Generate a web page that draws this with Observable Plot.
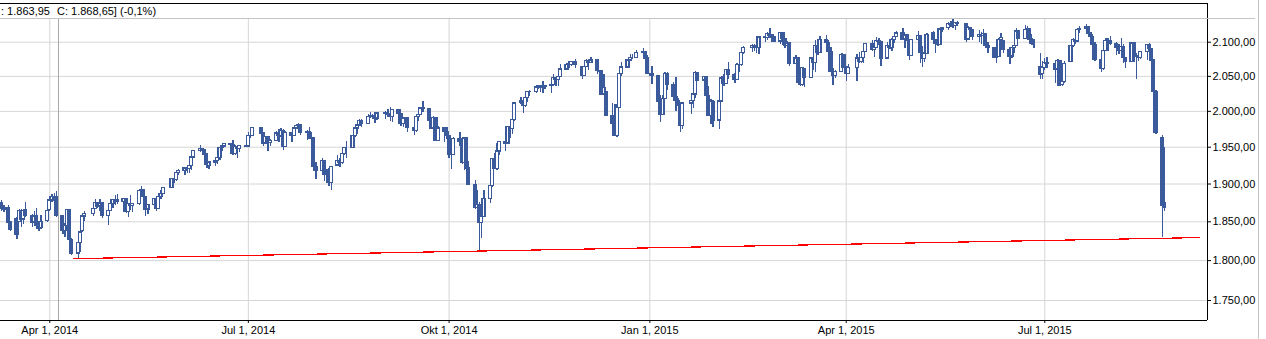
<!DOCTYPE html>
<html><head><meta charset="utf-8">
<script src="https://cdn.jsdelivr.net/npm/d3@7"></script>
<script src="https://cdn.jsdelivr.net/npm/@observablehq/plot@0.6"></script>
<style>html,body{margin:0;padding:0;background:#fff;overflow:hidden}svg{display:block}</style>
</head><body><div id="chart"></div>
<script>
// rows: [day, open, high, low, close]
const mar2014 = [[10,1875,1878,1864,1867],[11,1868,1872,1862,1866],[12,1865,1869,1853,1866],[13,1868,1871,1845,1848],[14,1849,1851,1837,1840],[17,1853,1855,1827,1833],[18,1850,1866,1849,1864],[19,1864,1866,1843,1853],[20,1853,1866,1847,1864],[21,1865,1876,1855,1858],[24,1858,1860,1842,1849],[25,1850,1864,1848,1857],[26,1858,1867,1844,1845],[27,1845,1848,1838,1841],[28,1842,1858,1840,1850],[31,1851,1867,1849,1864]];
const apr2014 = [[1,1865,1879,1864,1878],[2,1878,1886,1876,1883],[3,1883,1887,1875,1881],[4,1882,1890,1856,1858],[7,1857,1858,1834,1838],[8,1838,1848,1830,1845],[9,1845,1866,1844,1865],[10,1865,1866,1823,1826],[11,1826,1828,1806,1809],[14,1809,1827,1803,1823],[15,1823,1837,1810,1836],[16,1838,1857,1836,1857],[17,1857,1864,1851,1860],[21,1860,1867,1857,1867],[22,1867,1880,1866,1875],[23,1875,1876,1868,1870],[24,1870,1879,1864,1874],[25,1874,1875,1854,1858],[28,1858,1872,1845,1864],[29,1864,1876,1863,1873],[30,1873,1880,1867,1879]];
const may2014 = [[1,1879,1884,1872,1878],[2,1878,1886,1873,1876],[5,1876,1881,1862,1880],[6,1880,1880,1861,1863],[7,1863,1874,1855,1873],[8,1873,1884,1865,1871],[9,1871,1874,1862,1873],[12,1873,1892,1872,1891],[13,1891,1897,1890,1892],[14,1892,1892,1880,1883],[15,1883,1883,1857,1866],[16,1866,1873,1859,1872],[19,1872,1881,1867,1880],[20,1880,1880,1863,1867],[21,1867,1884,1866,1883],[22,1883,1891,1880,1887],[23,1887,1896,1886,1895],[27,1895,1907,1894,1907],[28,1907,1910,1901,1905],[29,1905,1915,1904,1915],[30,1915,1919,1911,1918]];
const jun2014 = [[2,1918,1922,1912,1921],[3,1921,1921,1914,1920],[4,1920,1925,1914,1924],[5,1924,1938,1918,1936],[6,1936,1946,1935,1945],[9,1945,1952,1943,1947],[10,1947,1947,1940,1946],[11,1946,1946,1935,1940],[12,1940,1940,1921,1926],[13,1924,1931,1920,1929],[16,1929,1934,1923,1931],[17,1931,1937,1926,1935],[18,1935,1950,1932,1949],[19,1949,1952,1944,1951],[20,1951,1955,1949,1954],[23,1954,1955,1949,1953],[24,1953,1959,1938,1941],[25,1941,1952,1938,1950],[26,1950,1951,1935,1948],[27,1948,1952,1943,1952],[30,1952,1955,1949,1951]];
const jul2014 = [[1,1951,1970,1950,1965],[2,1965,1968,1962,1966],[3,1966,1977,1965,1977],[7,1977,1977,1966,1969],[8,1969,1969,1951,1955],[9,1955,1965,1954,1964],[10,1964,1965,1944,1956],[11,1956,1961,1951,1959],[14,1959,1972,1958,1969],[15,1969,1974,1957,1965],[16,1965,1976,1964,1973],[17,1973,1974,1946,1950],[18,1950,1972,1949,1970],[21,1970,1970,1957,1966],[22,1966,1978,1965,1976],[23,1976,1981,1974,1979],[24,1979,1983,1977,1980],[25,1980,1980,1966,1970],[28,1970,1973,1959,1971],[29,1971,1977,1961,1962],[30,1962,1971,1954,1962],[31,1962,1963,1921,1923]];
const aug2014 = [[1,1923,1929,1906,1917],[4,1917,1935,1913,1931],[5,1931,1931,1904,1912],[6,1912,1920,1902,1912],[7,1912,1921,1897,1901],[8,1901,1924,1891,1923],[11,1925,1939,1924,1931],[12,1931,1934,1922,1928],[13,1928,1942,1927,1941],[14,1941,1949,1939,1949],[15,1949,1958,1935,1949],[18,1949,1966,1948,1966],[19,1966,1977,1964,1976],[20,1976,1982,1967,1980],[21,1980,1989,1979,1986],[22,1986,1988,1978,1982],[25,1982,1996,1981,1992],[26,1992,1999,1990,1994],[27,1994,1996,1989,1994],[28,1994,1995,1983,1990],[29,1990,1997,1987,1997]];
const sep2014 = [[2,1997,2000,1988,1996],[3,1996,2003,1992,1995],[4,1995,2005,1986,1992],[5,1992,2002,1984,2002],[8,2002,2002,1990,1996],[9,1996,1996,1979,1982],[10,1982,1991,1977,1990],[11,1990,1992,1980,1991],[12,1990,1990,1971,1977],[15,1977,1980,1966,1972],[16,1972,1995,1970,1992],[17,1992,2004,1986,1995],[18,1995,2005,1994,2004],[19,2004,2014,1999,2003],[22,2003,2003,1984,1987],[23,1987,1989,1975,1976],[24,1976,1993,1971,1991],[25,1991,1991,1958,1959],[26,1959,1979,1958,1976],[29,1976,1976,1956,1971],[30,1971,1978,1961,1965]];
const oct2014 = [[1,1965,1965,1935,1939],[2,1939,1945,1919,1939],[3,1939,1964,1938,1961],[6,1961,1970,1951,1958],[7,1958,1958,1927,1928],[8,1928,1963,1918,1962],[9,1962,1962,1920,1921],[10,1921,1930,1898,1899],[13,1899,1905,1866,1868],[14,1868,1891,1864,1872],[15,1872,1876,1813,1848],[16,1848,1869,1828,1856],[17,1856,1891,1855,1880],[20,1880,1898,1874,1897],[21,1897,1935,1896,1934],[22,1934,1942,1919,1920],[23,1920,1955,1918,1944],[24,1944,1958,1939,1957],[27,1957,1958,1944,1955],[28,1955,1978,1955,1978],[29,1978,1984,1962,1975],[30,1975,1992,1968,1988],[31,1988,2012,1986,2011]];
const nov2014 = [[3,2012,2020,2009,2014],[4,2014,2014,1997,2008],[5,2008,2020,2006,2019],[6,2019,2028,2012,2027],[7,2027,2030,2021,2028],[10,2028,2035,2026,2034],[11,2034,2037,2031,2036],[12,2036,2036,2027,2034],[13,2034,2042,2026,2035],[14,2035,2037,2031,2036],[17,2036,2039,2026,2037],[18,2037,2052,2036,2048],[19,2048,2048,2036,2045],[20,2045,2050,2036,2049],[21,2049,2067,2048,2060],[24,2060,2068,2058,2067],[25,2067,2072,2062,2066],[26,2066,2072,2064,2071],[28,2071,2075,2062,2066]];
const dec2014 = [[1,2064,2064,2046,2051],[2,2051,2066,2050,2064],[3,2064,2074,2063,2072],[4,2072,2075,2059,2069],[5,2069,2078,2068,2073],[8,2073,2074,2052,2058],[9,2058,2059,2031,2057],[10,2057,2057,2022,2024],[11,2024,2053,2023,2033],[12,2027,2027,1993,1994],[15,1994,2011,1974,1982],[16,1982,2009,1965,1965],[17,1965,2009,1963,2005],[18,2005,2054,2004,2053],[19,2053,2070,2050,2063],[22,2063,2074,2062,2073],[23,2073,2082,2071,2077],[24,2077,2082,2075,2077],[26,2077,2088,2076,2084],[29,2084,2090,2080,2086],[30,2086,2087,2074,2076],[31,2076,2081,2053,2054]];
const jan2015 = [[2,2054,2064,2038,2051],[5,2051,2051,2010,2013],[6,2013,2022,1984,1995],[7,1995,2022,1994,2018],[8,2018,2056,2017,2054],[9,2054,2056,2030,2037],[12,2037,2041,2014,2020],[13,2020,2049,2000,2015],[14,2015,2018,1980,2008],[15,2008,2013,1970,1979],[16,1979,2012,1975,2011],[20,2011,2021,1996,2015],[21,2015,2030,2004,2024],[22,2024,2057,2018,2055],[23,2055,2055,2042,2044],[26,2044,2050,2033,2049],[27,2049,2049,2012,2022],[28,2022,2035,1993,1994],[29,1994,2017,1981,2013],[30,2013,2016,1978,1987]];
const feb2015 = [[2,1987,2015,1974,2014],[3,2014,2050,2013,2047],[4,2047,2052,2035,2039],[5,2039,2060,2038,2059],[6,2059,2070,2046,2052],[9,2052,2054,2040,2045],[10,2045,2068,2044,2066],[11,2066,2071,2055,2066],[12,2066,2085,2065,2084],[13,2084,2093,2082,2091],[17,2091,2097,2085,2095],[18,2095,2096,2086,2093],[19,2093,2096,2084,2091],[20,2091,2108,2082,2107],[23,2107,2107,2100,2106],[24,2106,2115,2103,2112],[25,2112,2120,2106,2110],[26,2110,2111,2100,2107],[27,2107,2109,2100,2101]];
const mar2015 = [[2,2101,2114,2096,2114],[3,2114,2114,2095,2105],[4,2105,2105,2091,2095],[5,2095,2101,2092,2098],[6,2098,2099,2064,2068],[9,2068,2080,2067,2076],[10,2076,2076,2040,2041],[11,2041,2047,2035,2037],[12,2037,2063,2036,2062],[13,2060,2060,2034,2048],[16,2048,2077,2047,2076],[17,2076,2076,2059,2069],[18,2069,2102,2056,2094],[19,2094,2094,2080,2084],[20,2084,2109,2083,2103],[23,2103,2110,2098,2099],[24,2099,2103,2085,2086],[25,2086,2092,2055,2056],[26,2056,2062,2037,2051],[27,2051,2058,2047,2056],[30,2056,2084,2055,2081],[31,2081,2081,2061,2063]];
const apr2015 = [[1,2063,2063,2043,2054],[2,2054,2067,2052,2062],[6,2062,2082,2042,2076],[7,2076,2085,2069,2071],[8,2071,2082,2068,2077],[9,2077,2088,2069,2086],[10,2086,2098,2085,2097],[13,2097,2103,2087,2088],[14,2088,2094,2078,2091],[15,2091,2107,2090,2102],[16,2102,2106,2095,2100],[17,2100,2100,2065,2076],[20,2076,2099,2075,2095],[21,2095,2104,2089,2092],[22,2092,2105,2086,2103],[23,2103,2115,2098,2108],[24,2108,2116,2107,2113],[27,2113,2121,2102,2104],[28,2104,2111,2090,2110],[29,2110,2110,2092,2102],[30,2102,2102,2073,2080]];
const may2015 = [[1,2080,2103,2079,2103],[4,2103,2116,2102,2109],[5,2109,2110,2068,2084],[6,2084,2093,2063,2075],[7,2075,2088,2070,2083],[8,2083,2113,2082,2111],[11,2114,2116,2102,2103],[12,2103,2103,2083,2098],[13,2098,2108,2094,2096],[14,2096,2119,2095,2119],[15,2119,2122,2114,2121],[18,2121,2130,2117,2127],[19,2127,2131,2122,2126],[20,2126,2135,2120,2124],[21,2124,2130,2118,2129],[22,2129,2131,2123,2127],[26,2127,2127,2100,2104],[27,2104,2124,2103,2121],[28,2121,2121,2110,2118],[29,2118,2119,2102,2108]];
const jun2015 = [[1,2108,2117,2100,2111],[2,2111,2115,2097,2109],[3,2109,2119,2107,2112],[4,2112,2112,2091,2094],[5,2094,2099,2083,2091],[8,2091,2091,2077,2077],[9,2077,2083,2068,2078],[10,2078,2106,2078,2103],[11,2103,2113,2102,2106],[12,2101,2102,2083,2089],[15,2089,2089,2067,2079],[16,2079,2092,2076,2091],[17,2091,2102,2083,2095],[18,2095,2121,2094,2116],[19,2116,2116,2104,2105],[22,2105,2125,2104,2118],[23,2118,2123,2114,2119],[24,2119,2120,2103,2104],[25,2104,2111,2097,2098],[26,2098,2104,2090,2096],[29,2064,2084,2045,2052],[30,2054,2072,2046,2062]];
const jul2015 = [[1,2062,2076,2058,2070],[2,2070,2077,2062,2068],[6,2068,2070,2039,2060],[7,2060,2075,2035,2072],[8,2072,2072,2035,2038],[9,2038,2065,2036,2042],[10,2042,2072,2040,2068],[13,2071,2095,2070,2094],[14,2094,2105,2092,2103],[15,2103,2108,2096,2101],[16,2101,2119,2100,2118],[17,2118,2123,2113,2120],[20,2120,2127,2117,2122],[21,2122,2122,2109,2113],[22,2113,2113,2103,2108],[23,2108,2111,2092,2096],[24,2096,2100,2071,2074],[27,2074,2074,2056,2061],[28,2061,2090,2059,2087],[29,2087,2105,2086,2102],[30,2102,2105,2087,2102],[31,2102,2108,2095,2097]];
const aug2015 = [[3,2097,2100,2081,2091],[4,2091,2096,2082,2087],[5,2087,2106,2086,2093],[6,2093,2097,2069,2077],[7,2077,2077,2061,2071],[10,2071,2099,2070,2098],[11,2098,2098,2070,2078],[12,2078,2083,2045,2080],[13,2080,2087,2072,2077],[14,2077,2086,2074,2085],[17,2085,2097,2073,2096],[18,2096,2098,2087,2090],[19,2090,2091,2063,2073],[20,2073,2075,2025,2027],[21,2027,2030,1967,1970],[24,1962,1966,1830,1870.5],[25,1875,1950,1863.95,1868.65]];

const monthTables = [["2014-03",mar2014],["2014-04",apr2014],["2014-05",may2014],["2014-06",jun2014],["2014-07",jul2014],["2014-08",aug2014],["2014-09",sep2014],["2014-10",oct2014],["2014-11",nov2014],["2014-12",dec2014],["2015-01",jan2015],["2015-02",feb2015],["2015-03",mar2015],["2015-04",apr2015],["2015-05",may2015],["2015-06",jun2015],["2015-07",jul2015],["2015-08",aug2015]];

// trend line (support) anchor points
const trendLine = [{date: "2014-04-12", value: 1802.5}, {date: "2015-09-10", value: 1829.5}];

// axes
const xTickDates = ["2014-04-01","2014-07-01","2014-10-01","2015-01-01","2015-04-01","2015-07-01"];
const xTickLabels = ["Apr 1, 2014","Jul 1, 2014","Okt 1, 2014","Jan 1, 2015","Apr 1, 2015","Jul 1, 2015"];
const yTicks = [1750, 1800, 1850, 1900, 1950, 2000, 2050, 2100];
const xDomain = [new Date("2014-03-09T09:50:00Z"), new Date("2015-09-13T13:40:00Z")];
const yDomain = [1725.5, 2158.2];
const crosshairDate = "2014-04-05";

const blue = "#3a5a9c";
const parseUTC = s => new Date(s + "T00:00:00Z");

const candles = monthTables.flatMap(([ym, rows]) => rows.map(([day, open, high, low, close]) => ({
  date: new Date(Date.UTC(+ym.slice(0, 4), +ym.slice(5, 7) - 1, day)),
  open, high, low, close,
  top: Math.max(open, close), bottom: Math.min(open, close), up: close > open
})));
const trend = trendLine.map(d => ({date: parseUTC(d.date), value: d.value}));
const tickDates = xTickDates.map(parseUTC);
const labelOf = new Map(tickDates.map((d, i) => [+d, xTickLabels[i]]));

const de = d3.formatLocale({decimal: ",", thousands: ".", grouping: [3], currency: ["", ""], minus: "-"});
const fmtNum = de.format(",.2f");
const fmtPct = de.format(".1f");

const plot = Plot.plot({
  width: 1266, height: 339,
  marginLeft: 0, marginRight: 59, marginTop: 3, marginBottom: 19,
  style: {fontFamily: "'Liberation Sans', Arial, sans-serif", fontSize: "11px", color: "#000", background: "#fff"},
  x: {type: "utc", domain: xDomain},
  y: {type: "log", domain: yDomain},
  marks: [
    Plot.gridY({ticks: yTicks, stroke: "#d6d6d6", strokeOpacity: 1}),
    Plot.gridX({ticks: tickDates, stroke: "#d6d6d6", strokeOpacity: 1}),
    Plot.ruleX([parseUTC(crosshairDate)], {stroke: "#a8a8a8"}),
    Plot.rect(candles, {x1: "date", x2: "date", y1: "open", y2: "close", insetLeft: -1.5, insetRight: -1.5,
      fill: d => d.up ? "#ffffff" : blue, stroke: blue, strokeWidth: 1.2, shapeRendering: "crispEdges"}),
    Plot.ruleX(candles, {x: "date", y1: "top", y2: "high", stroke: blue, strokeWidth: 1.3, shapeRendering: "crispEdges"}),
    Plot.ruleX(candles, {x: "date", y1: "bottom", y2: "low", stroke: blue, strokeWidth: 1.3, shapeRendering: "crispEdges"}),
    Plot.line(trend, {x: "date", y: "value", stroke: "#ff0000", strokeWidth: 1.2, shapeRendering: "crispEdges"}),
    Plot.ruleY([yDomain[1]], {stroke: "#000"}),
    Plot.ruleY([yDomain[0]], {stroke: "#000"}),
    Plot.ruleX([xDomain[1]], {stroke: "#000"}),
    Plot.axisY({ticks: yTicks, anchor: "right", tickSize: 3, tickPadding: 2, tickFormat: fmtNum, label: null}),
    Plot.axisX({ticks: tickDates, anchor: "bottom", tickSize: 3, tickPadding: 3, tickFormat: d => labelOf.get(+d), label: null})
  ]
});

// header band (last candle readout; its left part is scrolled out of view as in the original) and panel chrome
const last = candles[candles.length - 1];
const prev = candles[candles.length - 2];
const pct = (last.close / prev.close - 1) * 100;
const svg = d3.select(plot);
const hdr = svg.append("g").attr("font-family", "'Liberation Sans', Arial, sans-serif").attr("font-size", 11).attr("fill", "#000").attr("text-anchor", "start");
hdr.append("rect").attr("x", 0).attr("y", 4).attr("width", 1206).attr("height", 14).attr("fill", "#fff");
hdr.append("line").attr("x1", 0).attr("x2", 1255).attr("y1", 18.5).attr("y2", 18.5).attr("stroke", "#c4c4c4");
hdr.append("line").attr("x1", 1258.5).attr("x2", 1258.5).attr("y1", 0).attr("y2", 339).attr("stroke", "#c4c4c4");
hdr.append("text").attr("x", 1).attr("y", 15).attr("text-anchor", "start").text(`: ${fmtNum(last.low)}`);
hdr.append("text").attr("x", 57).attr("y", 15).attr("text-anchor", "start").text(`C: ${fmtNum(last.close)}] (${fmtPct(pct)}%)`);

document.getElementById("chart").append(plot);
</script>
</body></html>
